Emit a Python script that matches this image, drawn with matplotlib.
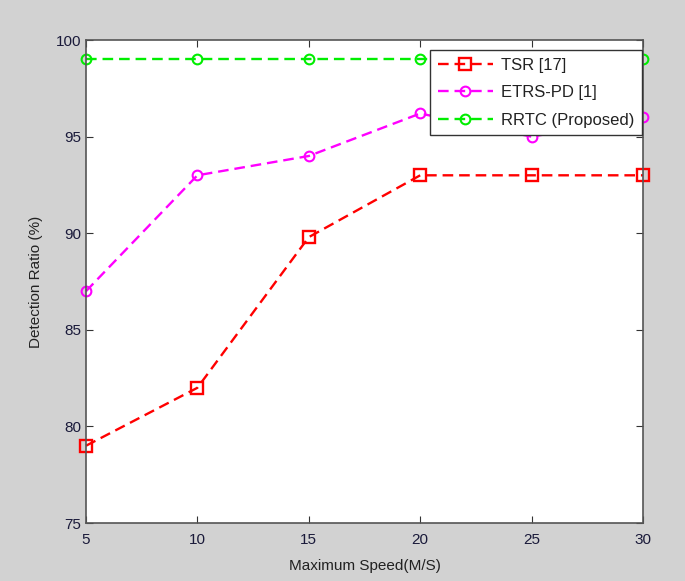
import matplotlib
matplotlib.use("Agg")
import matplotlib.pyplot as plt

speed = [5, 10, 15, 20, 25, 30]
tsr = [79, 82, 89.8, 93, 93, 93]
etrs = [87, 93, 94, 96.2, 95, 96]
rrtc = [99, 99, 99, 99, 99, 99]

plt.rcParams['font.family'] = ['Liberation Sans', 'DejaVu Sans']

fig = plt.figure(figsize=(6.85, 5.81), dpi=100, facecolor="#d2d2d2")
ax = fig.add_axes([0.1255, 0.0998, 0.8132, 0.8312])
ax.set_facecolor("white")

dash = (4.5, 2.5)
ax.plot(speed, tsr, "--s", color="#ff0000", lw=1.7, ms=8, mfc="none", mew=1.7,
        dashes=dash, label="TSR [17]", clip_on=False)
ax.plot(speed, etrs, "--o", color="#ff00ff", lw=1.7, ms=7, mfc="none", mew=1.5,
        dashes=dash, label="ETRS-PD [1]", clip_on=False)
ax.plot(speed, rrtc, "--o", color="#00ee00", lw=1.7, ms=7, mfc="none", mew=1.5,
        dashes=dash, label="RRTC (Proposed)", clip_on=False)

ax.set_xlim(5, 30)
ax.set_ylim(75, 100)
ax.set_xticks(speed)
ax.set_yticks([75, 80, 85, 90, 95, 100])
ax.tick_params(direction="in", top=True, right=True, length=5, labelsize=11,
               colors="#333333", labelcolor="#1a1a3a")
ax.tick_params(axis="x", pad=7)
for s in ax.spines.values():
    s.set_color("#555555")
    s.set_linewidth(1.2)

ax.set_xlabel("Maximum Speed(M/S)", fontsize=11, color="#222222", labelpad=9)
ax.set_ylabel("Detection Ratio (%)", fontsize=11, color="#222222", labelpad=9)

leg = ax.legend(loc="upper right", bbox_to_anchor=(0.998, 0.979), borderaxespad=0,
                fontsize=12, fancybox=False, framealpha=1, edgecolor="#333333",
                handlelength=3.3, handletextpad=0.5, borderpad=0.45,
                labelspacing=0.75)
leg.get_frame().set_linewidth(1.0)
for t in leg.get_texts():
    t.set_color("#222222")

fig.savefig("out.png", dpi=100, facecolor=fig.get_facecolor())
